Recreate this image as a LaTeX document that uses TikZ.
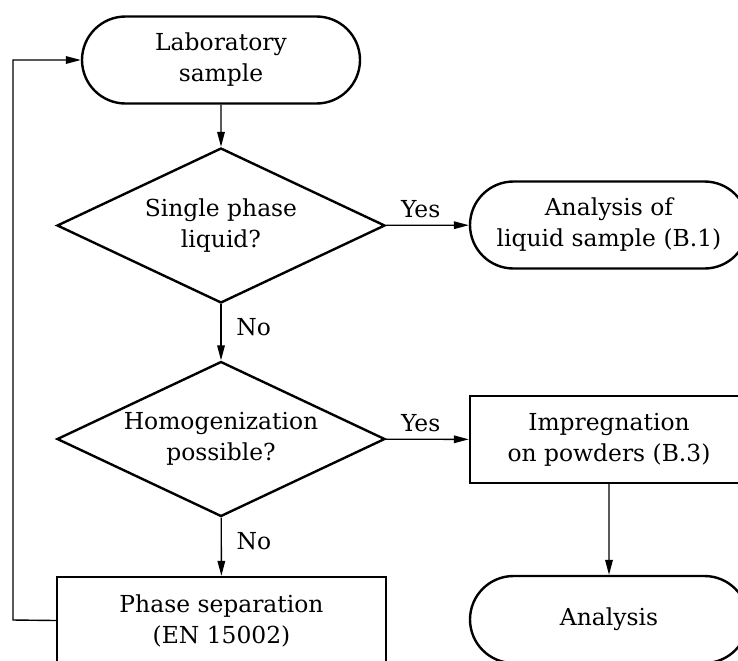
\documentclass[tikz,border=0pt]{standalone}
\usepackage{fontspec}
\setmainfont{DejaVu Serif}
\usetikzlibrary{shapes.geometric,shapes.misc,arrows.meta}

\begin{document}
\begin{tikzpicture}[x=0.5pt,y=-0.5pt,
            every node/.style={font=\fontsize{11.7}{15.5}\selectfont, align=center},
            term/.style={draw, line width=1.2pt, rounded rectangle, minimum width=139pt, minimum height=43.5pt, inner sep=0pt},
            box/.style={draw, line width=1.2pt, rectangle, minimum width=139pt, minimum height=43.5pt, inner sep=0pt},
            dec/.style={draw, line width=1.2pt, diamond, aspect=2.1, minimum width=164pt, minimum height=77.5pt, inner sep=0pt},
            arr/.style={-{Triangle[length=7.5pt,width=3.8pt]}, line width=0.7pt}]
            \useasboundingbox (0,0) rectangle (738,660);
            % left column
            \node[term] (t1) at (221,60) {Laboratory\\sample};
            \node[dec] (d1) at (221,225.5) {Single phase\\liquid?};
            \node[dec] (d2) at (221,439) {Homogenization\\possible?};
            \node[box, minimum width=164.5pt] (b1) at (221.5,620.5) {Phase separation\\(EN 15002)};
            % right column
            \node[term] (t2) at (609,225) {Analysis of\\liquid sample (B.1)};
            \node[box] (b2) at (609,439.5) {Impregnation\\on powders (B.3)};
            \node[term] (t3) at (609,619.5) {Analysis};
            \coordinate (c1) at (13,620);

            \draw[arr] (t1) -- (d1);
            \draw[arr] (d1) -- node[right, pos=0.4, xshift=4pt] {No} (d2);
            \draw[arr] (d2) -- node[right, pos=0.4, xshift=4pt] {No} (b1);
            \draw[arr] (d1) -- node[above, pos=0.42] {Yes} (t2);
            \draw[arr] (d2) -- node[above, pos=0.42] {Yes} (b2);
            \draw[arr] (b2) -- (t3);
            \draw[arr] (b1.west) -- (c1) |- (t1.west);
\end{tikzpicture}
\end{document}
